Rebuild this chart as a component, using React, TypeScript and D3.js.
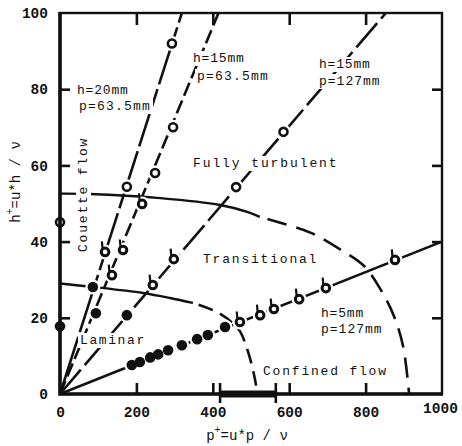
import React, { useEffect, useRef } from 'react';
import * as d3 from 'd3';

// axis ticks
const xTicks = [0, 200, 400, 600, 800, 1000];
const yTicks = [0, 20, 40, 60, 80, 100];

// guide lines through the origin, end point on the frame (p+, h+)
const lineH20P63 = [[0, 0], [319, 100]];
const lineH15P63 = [[0, 0], [415, 100]];
const lineH15P127 = [[0, 0], [853, 100]];
const lineH5P127 = [[0, 0], [1000, 40]];

// measured points, by marker
const openPts = [[0, 45.1], [175, 54.4], [293, 92], [249, 58], [296, 70], [461, 54.3], [585, 68.8]];
const tickPts = [
  [118, 37.3], [136, 31.2], [165, 37.8], [215, 49.9], [243, 28.6], [298, 35.4],
  [471, 18.9], [524, 20.7], [560, 22.3], [626, 24.9], [696, 27.8], [877, 35.2],
];
const filledPts = [
  [0, 17.8], [86, 28.1], [94, 21.2], [175, 20.7],
  [188, 7.6], [209, 8.4], [236, 9.6], [257, 10.4], [283, 11.5], [319, 12.8], [359, 14.4], [387, 15.5], [432, 17.6],
];

// regime boundaries
const turbSolid = [[0, 52.6], [78, 52.5], [262, 51.4], [419, 49.6], [490, 47.8], [523, 46.5]];
const turbDashed = [[523, 46.5], [579, 44.9], [657, 42.3], [736, 37.8], [796, 33.6], [840, 27.3], [874, 20.5], [898, 12.6], [914, 0]];
const lamSolid = [[0, 29], [86, 28.1], [217, 26.5], [288, 25.2], [348, 23.9]];
const lamDashed = [[348, 23.9], [411, 21.5], [450, 18.8], [471, 16.5], [490, 11.8], [503, 7.2], [512, 3], [516, 0]];

// confined flow range on the p+ axis
const confinedRange = [419, 565];

const MONO = '"Liberation Mono", "DejaVu Sans Mono", monospace';

const App: React.FC = () => {
  const svgRef = useRef<SVGSVGElement>(null);

  useEffect(() => {
    const svg = d3.select(svgRef.current);
    svg.selectAll('*').remove();

    const x = d3.scaleLinear().domain([0, 1000]).range([60, 442]);
    const y = d3.scaleLinear().domain([0, 100]).range([394, 13]);
    const ink = '#111';

    const smooth = d3.line<number[]>().x(d => x(d[0])).y(d => y(d[1])).curve(d3.curveCatmullRom);
    const straight = d3.line<number[]>().x(d => x(d[0])).y(d => y(d[1]));

    // boundaries
    svg.append('path').attr('d', smooth(turbSolid)).attr('fill', 'none').attr('stroke', ink).attr('stroke-width', 2.4);
    svg.append('path').attr('d', smooth(turbDashed)).attr('fill', 'none').attr('stroke', ink).attr('stroke-width', 2.6)
      .attr('stroke-dasharray', '20,10').attr('stroke-dashoffset', -8);
    svg.append('path').attr('d', smooth(lamSolid)).attr('fill', 'none').attr('stroke', ink).attr('stroke-width', 2.4);
    svg.append('path').attr('d', smooth(lamDashed)).attr('fill', 'none').attr('stroke', ink).attr('stroke-width', 2.6)
      .attr('stroke-dasharray', '15,8').attr('stroke-dashoffset', -6);

    // guide lines
    const guides: [number[][], string | null][] = [
      [lineH20P63, '60,5'],
      [lineH15P63, '14,5'],
      [lineH15P127, '32,6'],
      [lineH5P127, null],
    ];
    guides.forEach(([pts, dash]) => {
      const p = svg.append('path').attr('d', straight(pts)).attr('fill', 'none')
        .attr('stroke', ink).attr('stroke-width', 2.6);
      if (dash) p.attr('stroke-dasharray', dash);
    });

    // white halos leave gaps in the lines around markers
    const allPts = [...openPts, ...tickPts, ...filledPts].filter(d => d[0] > 0);
    svg.append('g').selectAll('circle').data(allPts).enter().append('circle')
      .attr('cx', d => x(d[0])).attr('cy', d => y(d[1])).attr('r', 7.5).attr('fill', '#fff');

    // markers
    svg.append('g').selectAll('circle').data(openPts).enter().append('circle')
      .attr('cx', d => x(d[0])).attr('cy', d => y(d[1])).attr('r', 4)
      .attr('fill', '#fff').attr('stroke', ink).attr('stroke-width', 2.6);

    const tg = svg.append('g').selectAll('g').data(tickPts).enter().append('g')
      .attr('transform', d => `translate(${x(d[0])},${y(d[1])})`);
    tg.append('circle').attr('r', 3.8).attr('fill', '#fff').attr('stroke', ink).attr('stroke-width', 3);
    tg.append('line').attr('x1', -2.5).attr('y1', -3).attr('x2', -3.2).attr('y2', -10.5)
      .attr('stroke', ink).attr('stroke-width', 2.2);

    svg.append('g').selectAll('circle').data(filledPts).enter().append('circle')
      .attr('cx', d => x(d[0])).attr('cy', d => y(d[1])).attr('r', 5.3).attr('fill', ink);

    // annotations
    const notes: { t: string; px: number; py: number; bg: boolean; ls: number }[] = [
      { t: 'h=20mm', px: 77, py: 94, bg: true, ls: 0.8 },
      { t: 'p=63.5mm', px: 79, py: 110, bg: true, ls: 1.2 },
      { t: 'h=15mm', px: 193, py: 62, bg: true, ls: 0.8 },
      { t: 'p=63.5mm', px: 197, py: 80, bg: true, ls: 1.2 },
      { t: 'h=15mm', px: 319, py: 68, bg: true, ls: 0.8 },
      { t: 'p=127mm', px: 319, py: 85, bg: true, ls: 1.0 },
      { t: 'Fully turbulent', px: 193, py: 167, bg: true, ls: 1.9 },
      { t: 'Transitional', px: 203, py: 263, bg: true, ls: 1.8 },
      { t: 'Laminar', px: 80, py: 344, bg: true, ls: 1.6 },
      { t: 'h=5mm', px: 321, py: 317, bg: false, ls: 0.8 },
      { t: 'p=127mm', px: 321, py: 333, bg: false, ls: 1.0 },
      { t: 'Confined flow', px: 263, py: 375, bg: false, ls: 1.8 },
    ];
    notes.forEach(n => {
      const g = svg.append('g');
      const txt = g.append('text').attr('x', n.px).attr('y', n.py)
        .attr('font-family', MONO).attr('font-size', 13).attr('letter-spacing', n.ls)
        .attr('fill', ink).text(n.t);
      if (n.bg) {
        const b = (txt.node() as SVGTextElement).getBBox();
        g.insert('rect', 'text').attr('x', b.x - 2).attr('y', b.y).attr('width', b.width + 4)
          .attr('height', b.height).attr('fill', '#fff');
      }
    });

    // rotated "Couette flow"
    const cg = svg.append('g').attr('transform', 'translate(87,252) rotate(-90)');
    const ct = cg.append('text').attr('font-family', MONO).attr('font-size', 13)
      .attr('letter-spacing', 1.8).attr('fill', ink).text('Couette flow');
    const cb = (ct.node() as SVGTextElement).getBBox();
    cg.insert('rect', 'text').attr('x', cb.x - 2).attr('y', cb.y).attr('width', cb.width + 4)
      .attr('height', cb.height).attr('fill', '#fff');

    // frame
    svg.append('rect').attr('x', x(0)).attr('y', y(100)).attr('width', x(1000) - x(0))
      .attr('height', y(0) - y(100)).attr('fill', 'none').attr('stroke', ink).attr('stroke-width', 2.4);
    svg.append('path').attr('d', `M${x(0)},${y(100) - 1}V${y(0)}H${x(1000) + 1}`)
      .attr('fill', 'none').attr('stroke', ink).attr('stroke-width', 3.6);

    // axes with inward ticks
    const inner = [200, 400, 600, 800];
    const styleAxis = (g: d3.Selection<SVGGElement, unknown, null, undefined>) => {
      g.select('.domain').remove();
      g.selectAll('.tick line').attr('stroke', ink).attr('stroke-width', 2.6);
      g.selectAll('.tick text').attr('font-family', MONO).attr('font-size', 14.5)
        .attr('font-weight', 'bold').attr('fill', ink);
    };

    const gx = svg.append('g').attr('transform', `translate(0,${y(0)})`)
      .call(d3.axisBottom(x).tickValues(xTicks).tickSize(-11).tickPadding(13).tickFormat(d3.format('d')));
    styleAxis(gx);
    gx.selectAll('.tick').filter((d: any) => d === 0 || d === 1000).select('line').remove();
    gx.selectAll('.tick').filter((d: any) => d === 1000).select('text').attr('y', 9).attr('x', -2);

    const gy = svg.append('g').attr('transform', `translate(${x(0)},0)`)
      .call(d3.axisLeft(y).tickValues(yTicks).tickSize(-10).tickPadding(12));
    styleAxis(gy);
    gy.selectAll('.tick').filter((d: any) => d === 0 || d === 100).select('line').remove();

    const gt = svg.append('g').attr('transform', `translate(0,${y(100)})`)
      .call(d3.axisTop(x).tickValues(inner).tickSize(-12).tickFormat(() => ''));
    styleAxis(gt);

    const gr = svg.append('g').attr('transform', `translate(${x(1000)},0)`)
      .call(d3.axisRight(y).tickValues([20, 40, 60, 80]).tickSize(-10).tickFormat(() => ''));
    styleAxis(gr);

    // confined-flow bar on the p+ axis
    svg.append('line').attr('x1', x(confinedRange[0])).attr('x2', x(confinedRange[1]))
      .attr('y1', y(0)).attr('y2', y(0)).attr('stroke', ink).attr('stroke-width', 7);
    confinedRange.forEach(v => {
      svg.append('line').attr('x1', x(v)).attr('x2', x(v)).attr('y1', y(0) - 11).attr('y2', y(0) + 9)
        .attr('stroke', ink).attr('stroke-width', 2.6);
    });

    // axis titles
    const xt = svg.append('text').attr('x', 247).attr('y', 440).attr('text-anchor', 'middle')
      .attr('font-family', MONO).attr('font-size', 14).attr('fill', ink);
    xt.append('tspan').text('p');
    xt.append('tspan').attr('dy', -7).attr('font-size', 10).text('+');
    xt.append('tspan').attr('dy', 7).text('=u*p / ν');

    const yt = svg.append('text').attr('transform', 'translate(20,182) rotate(-90)').attr('text-anchor', 'middle')
      .attr('font-family', MONO).attr('font-size', 14).attr('fill', ink);
    yt.append('tspan').text('h');
    yt.append('tspan').attr('dy', -7).attr('font-size', 10).text('+');
    yt.append('tspan').attr('dy', 7).text('=u*h / ν');
  }, []);

  return (
    <svg
      ref={svgRef}
      width={462}
      height={446}
      style={{ position: 'absolute', left: 0, top: 0, background: '#fff' }}
    />
  );
};

export default App;
